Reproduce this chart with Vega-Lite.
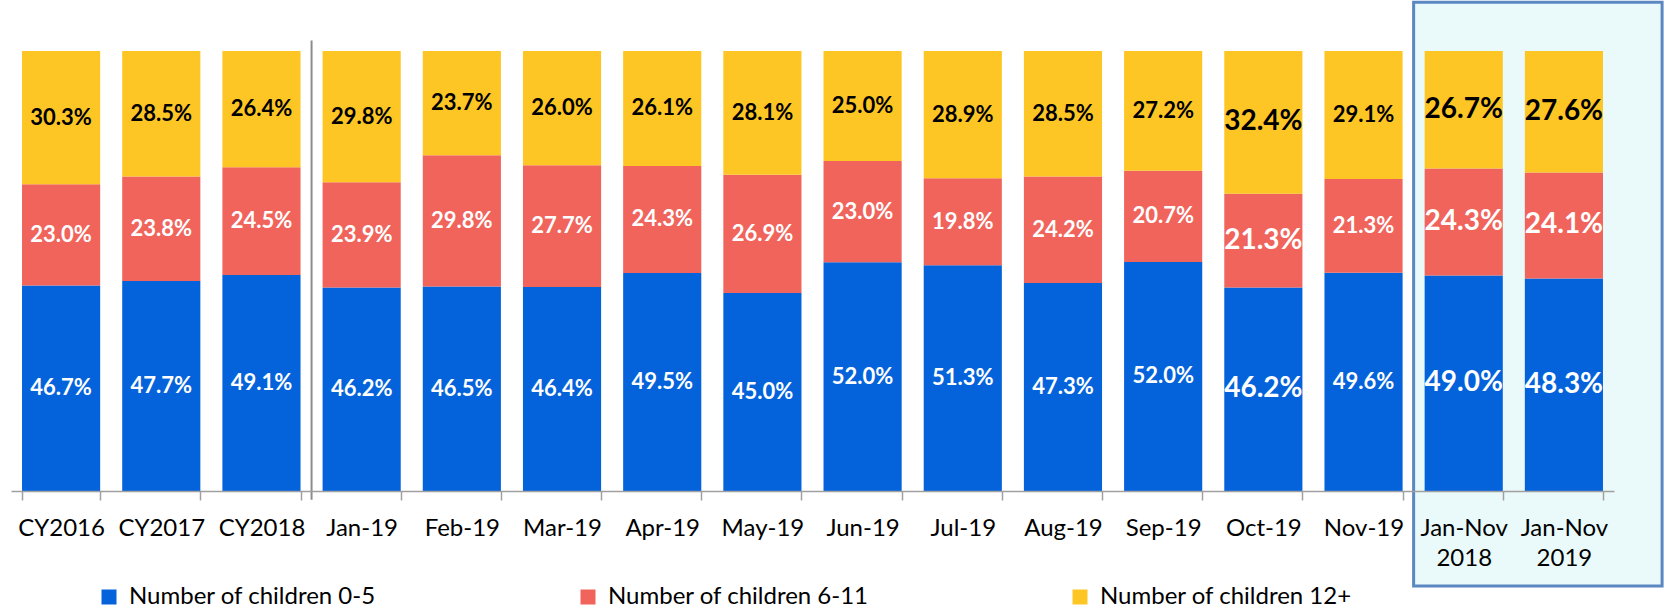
{
  "$schema": "https://vega.github.io/schema/vega-lite/v6.json",
  "autosize": "none",
  "width": 1603,
  "height": 440,
  "padding": {"left": 11, "top": 51, "right": 51, "bottom": 119},
  "background": "white",
  "config": {"view": {"stroke": null}, "font": "Lato"},
  "data": {"values": [
    {"cat": "CY2016", "g": "0-5", "v": 46.7}, {"cat": "CY2016", "g": "6-11", "v": 23.0}, {"cat": "CY2016", "g": "12+", "v": 30.3},
    {"cat": "CY2017", "g": "0-5", "v": 47.7}, {"cat": "CY2017", "g": "6-11", "v": 23.8}, {"cat": "CY2017", "g": "12+", "v": 28.5},
    {"cat": "CY2018", "g": "0-5", "v": 49.1}, {"cat": "CY2018", "g": "6-11", "v": 24.5}, {"cat": "CY2018", "g": "12+", "v": 26.4},
    {"cat": "Jan-19", "g": "0-5", "v": 46.2}, {"cat": "Jan-19", "g": "6-11", "v": 23.9}, {"cat": "Jan-19", "g": "12+", "v": 29.8},
    {"cat": "Feb-19", "g": "0-5", "v": 46.5}, {"cat": "Feb-19", "g": "6-11", "v": 29.8}, {"cat": "Feb-19", "g": "12+", "v": 23.7},
    {"cat": "Mar-19", "g": "0-5", "v": 46.4}, {"cat": "Mar-19", "g": "6-11", "v": 27.7}, {"cat": "Mar-19", "g": "12+", "v": 26.0},
    {"cat": "Apr-19", "g": "0-5", "v": 49.5}, {"cat": "Apr-19", "g": "6-11", "v": 24.3}, {"cat": "Apr-19", "g": "12+", "v": 26.1},
    {"cat": "May-19", "g": "0-5", "v": 45.0}, {"cat": "May-19", "g": "6-11", "v": 26.9}, {"cat": "May-19", "g": "12+", "v": 28.1},
    {"cat": "Jun-19", "g": "0-5", "v": 52.0}, {"cat": "Jun-19", "g": "6-11", "v": 23.0}, {"cat": "Jun-19", "g": "12+", "v": 25.0},
    {"cat": "Jul-19", "g": "0-5", "v": 51.3}, {"cat": "Jul-19", "g": "6-11", "v": 19.8}, {"cat": "Jul-19", "g": "12+", "v": 28.9},
    {"cat": "Aug-19", "g": "0-5", "v": 47.3}, {"cat": "Aug-19", "g": "6-11", "v": 24.2}, {"cat": "Aug-19", "g": "12+", "v": 28.5},
    {"cat": "Sep-19", "g": "0-5", "v": 52.0}, {"cat": "Sep-19", "g": "6-11", "v": 20.7}, {"cat": "Sep-19", "g": "12+", "v": 27.2},
    {"cat": "Oct-19", "g": "0-5", "v": 46.2}, {"cat": "Oct-19", "g": "6-11", "v": 21.3}, {"cat": "Oct-19", "g": "12+", "v": 32.4},
    {"cat": "Nov-19", "g": "0-5", "v": 49.6}, {"cat": "Nov-19", "g": "6-11", "v": 21.3}, {"cat": "Nov-19", "g": "12+", "v": 29.1},
    {"cat": "Jan-Nov 2018", "g": "0-5", "v": 49.0}, {"cat": "Jan-Nov 2018", "g": "6-11", "v": 24.3}, {"cat": "Jan-Nov 2018", "g": "12+", "v": 26.7},
    {"cat": "Jan-Nov 2019", "g": "0-5", "v": 48.3}, {"cat": "Jan-Nov 2019", "g": "6-11", "v": 24.1}, {"cat": "Jan-Nov 2019", "g": "12+", "v": 27.6}
  ]},
  "transform": [
    {"calculate": "indexof(['0-5','6-11','12+'], datum.g)", "as": "idx"},
    {"stack": "v", "groupby": ["cat"], "sort": [{"field": "idx", "order": "ascending"}], "offset": "normalize", "as": ["y0", "y1"]},
    {"calculate": "(datum.y0 + datum.y1) / 2", "as": "mid"},
    {"calculate": "format(datum.v, '.1f') + '%'", "as": "label"}
  ],
  "resolve": {"scale": {"x": "independent", "y": "independent"}},
  "layer": [
    {
      "data": {"values": [{}]},
      "mark": {"type": "rect", "fill": "#eafafa", "stroke": "#5b87c2", "strokeWidth": 3},
      "encoding": {
        "x": {"datum": 14, "type": "quantitative", "scale": {"domain": [0, 16], "nice": false, "zero": false}, "axis": null},
        "x2": {"datum": 16.48},
        "y": {"datum": -0.216, "type": "quantitative", "scale": {"domain": [0, 1], "nice": false, "zero": false}, "axis": null},
        "y2": {"datum": 1.111}
      }
    },
    {
      "data": {"values": [{}]},
      "mark": {"type": "rule", "color": "#8c8c8c", "strokeWidth": 2},
      "encoding": {
        "x": {"datum": 3, "type": "quantitative", "scale": {"domain": [0, 16], "nice": false, "zero": false}, "axis": null},
        "y": {"datum": -0.02, "type": "quantitative", "scale": {"domain": [0, 1], "nice": false, "zero": false}, "axis": null},
        "y2": {"datum": 1.024}
      }
    },
    {
      "mark": {"type": "bar"},
      "encoding": {
        "x": {"field": "cat", "type": "nominal", "sort": null, "title": null,
          "scale": {"paddingInner": 0.22, "paddingOuter": 0.11},
          "axis": {"zindex": 1, "labelAngle": 0, "labelFont": "Lato", "labelFontSize": 24, "labelColor": "#000000",
            "labelExpr": "isValid(datum.value) ? split(datum.value, ' ') : ''", "labelLineHeight": 30, "labelPadding": 16,
            "tickBand": "extent", "tickSize": 9, "tickColor": "#a0a0a0", "tickWidth": 1.5,
            "domainColor": "#a0a0a0", "domainWidth": 1.5}},
        "y": {"field": "y0", "type": "quantitative", "scale": {"domain": [0, 1], "nice": false, "zero": false}, "axis": null},
        "y2": {"field": "y1"},
        "color": {"field": "g", "type": "nominal",
          "scale": {"domain": ["0-5", "6-11", "12+"], "range": ["#0463DB", "#F0645C", "#FDC624"]},
          "legend": {"title": null, "orient": "none", "legendX": 86, "legendY": 534, "direction": "horizontal",
            "symbolType": "square", "symbolSize": 225, "symbolStrokeWidth": 0, "labelFont": "Lato", "labelFontSize": 24,
            "labelColor": "#000000", "labelLimit": 0, "columnPadding": 199, "symbolOffset": 0, "labelOffset": 8,
            "labelExpr": "'Number of children ' + datum.label"}}
      }
    },
    {
      "mark": {"type": "text", "fontWeight": "bold", "font": "Lato", "align": "center", "baseline": "middle"},
      "encoding": {
        "x": {"field": "cat", "type": "nominal", "sort": null, "scale": {"paddingInner": 0.22, "paddingOuter": 0.11}, "axis": null},
        "y": {"field": "mid", "type": "quantitative", "scale": {"domain": [0, 1], "nice": false, "zero": false}, "axis": null},
        "text": {"field": "label"},
        "color": {"condition": {"test": "datum.g == '12+'", "value": "#000000"}, "value": "#ffffff"},
        "size": {"condition": {"test": "datum.cat == 'Oct-19' || indexof(datum.cat, 'Jan-Nov') == 0", "value": 28}, "value": 22}
      }
    }
  ]
}
